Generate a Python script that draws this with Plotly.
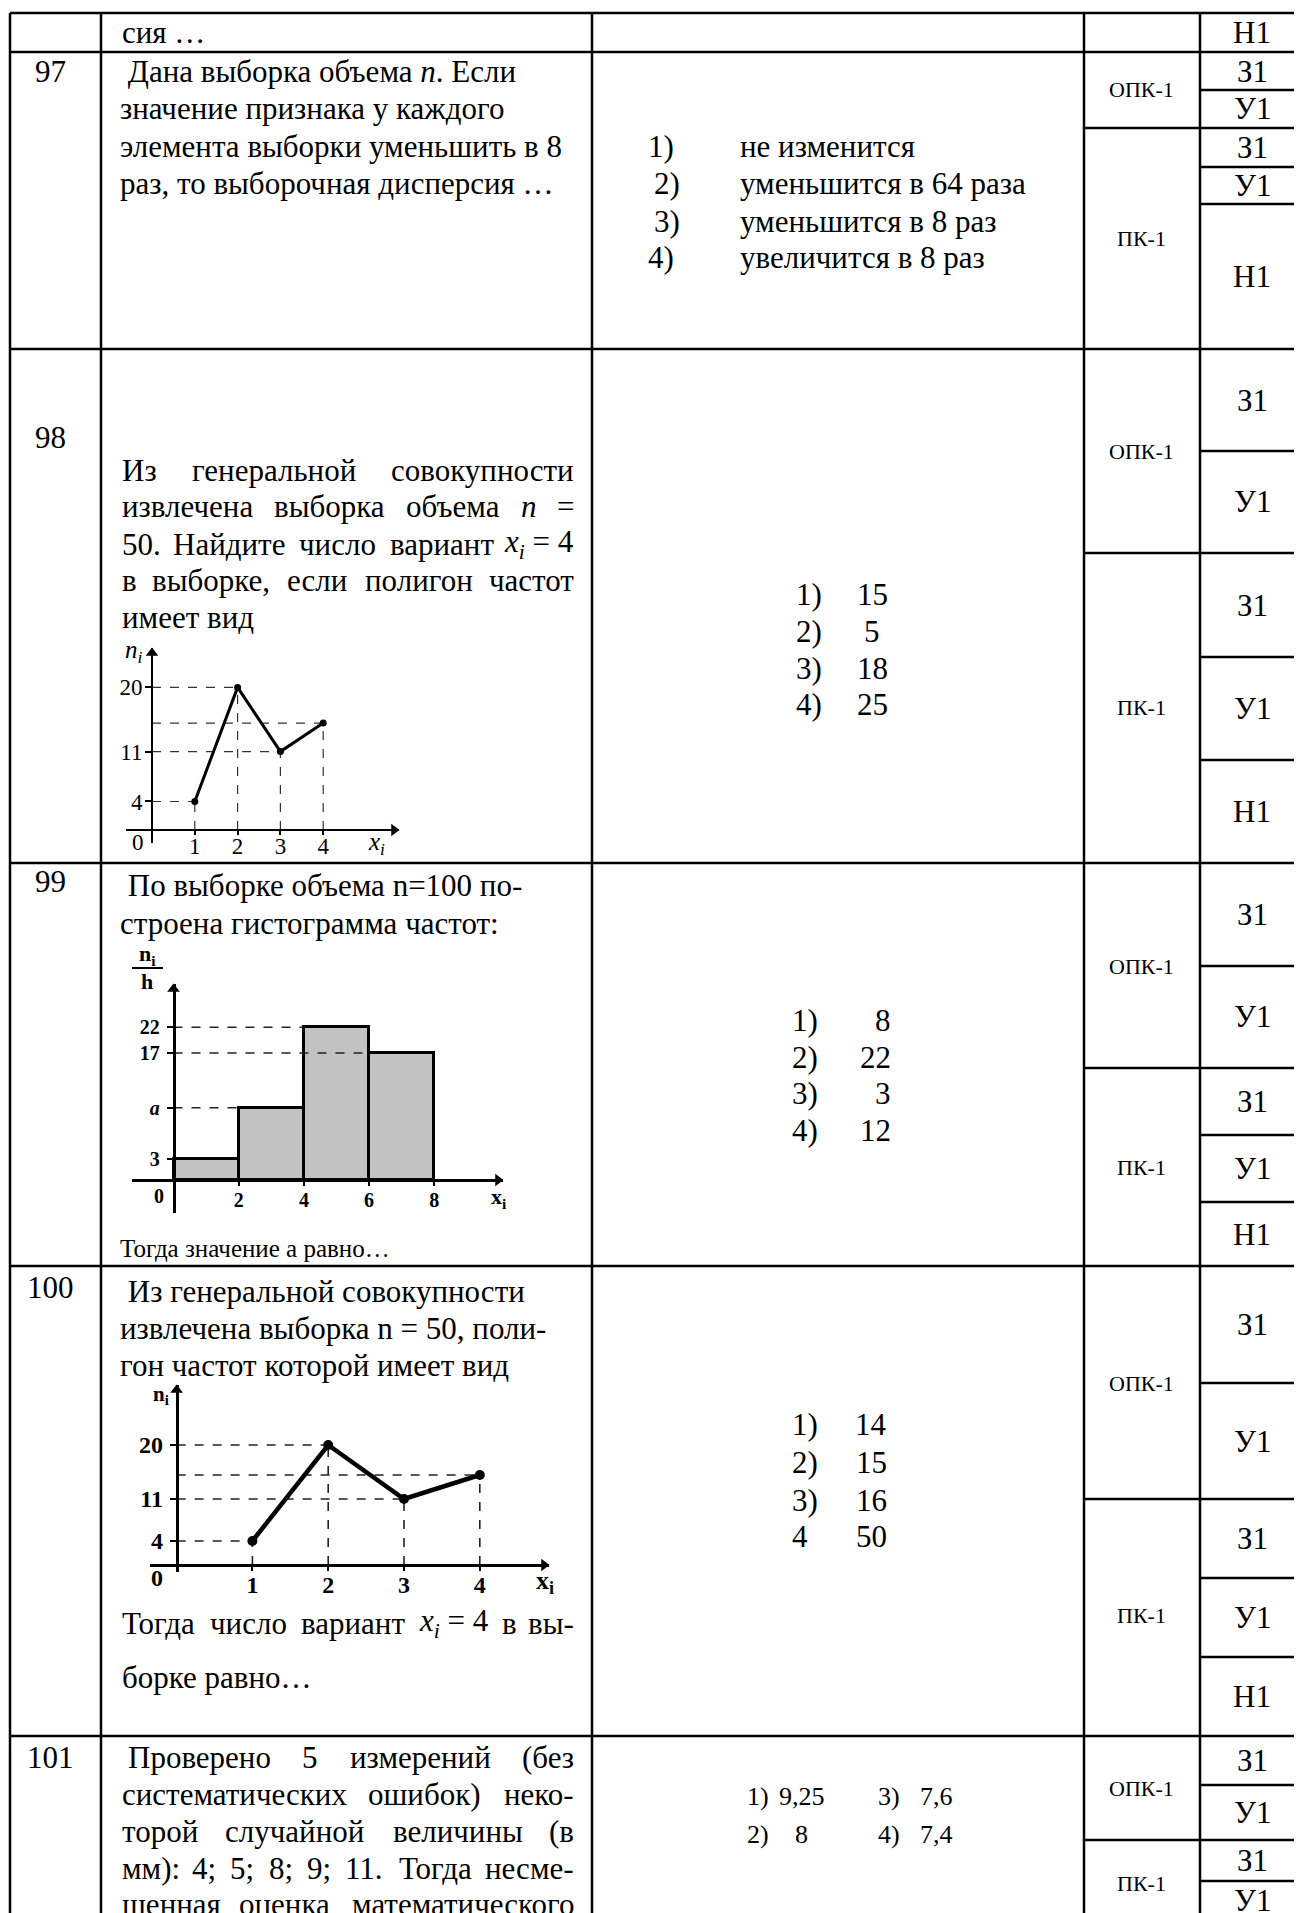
import re
import plotly.graph_objects as go

W, H = 1302, 1913
SERIF = "Liberation Serif"
FS = 31

# ---------------- data ----------------
row_numbers = ["97", "98", "99", "100", "101"]
q96_tail = "сия …"
q97_lines = [" Дана выборка объема <i>n</i>. Если", "значение признака у каждого",
             "элемента выборки уменьшить в 8", "раз, то выборочная дисперсия …"]
q98_words = [["Из", "генеральной", "совокупности"],
             ["извлечена", "выборка", "объема", "<i>n</i>", "="],
             ["50.", "Найдите", "число", "вариант", "<i>x<sub>i</sub></i> = 4"],
             ["в", "выборке,", "если", "полигон", "частот"]]
q98_last = "имеет вид"
q99_lines = [" По выборке объема n=100 по-", "строена гистограмма частот:"]
q99_after = "Тогда значение а равно…"
q100_lines = [" Из генеральной совокупности", "извлечена выборка n = 50, поли-",
              "гон частот которой имеет вид"]
q100_after_words = ["Тогда", "число", "вариант", "<i>x<sub>i</sub></i> = 4", "в", "вы-"]
q100_last = "борке равно…"
q101_words = [["Проверено", "5", "измерений", "(без"],
              ["систематических", "ошибок)", "неко-"],
              ["торой", "случайной", "величины", "(в"],
              ["мм):", "4;", "5;", "8;", "9;", "11.", "Тогда", "несме-"],
              ["щенная", "оценка", "математического"]]

answer_marks = ["1)", "2)", "3)", "4)"]
answers_97 = ["не изменится", "уменьшится в 64 раза", "уменьшится в 8 раз", "увеличится в 8 раз"]
answers_98 = ["15", "5", "18", "25"]
answers_99 = ["8", "22", "3", "12"]
answers_100_marks = ["1)", "2)", "3)", "4"]
answers_100 = ["14", "15", "16", "50"]
answers_101 = ["9,25", "8", "7,6", "7,4"]

comp_labels = ["ОПК-1", "ПК-1"]
level_labels_96 = ["Н1"]
level_labels_full = ["З1", "У1", "З1", "У1", "Н1"]
level_labels_101 = ["З1", "У1", "З1", "У1"]

# chart 1: polygon of frequencies (row 98)
poly1_x = [1, 2, 3, 4]
poly1_n = [4, 20, 11, 15]
poly1_yticks = [4, 11, 20]
# chart 2: histogram (row 99) - heights as drawn in the picture
hist_left = [0, 2, 4, 6]
hist_w = 2
hist_h = [3, 10.4, 22, 18.3]
hist_xticks = [2, 4, 6, 8]
hist_ytick_text = ["3", "a", "22", "17"]
# chart 3: polygon of frequencies (row 100)
poly2_x = [1, 2, 3, 4]
poly2_n = [4, 20, 11, 15]
poly2_yticks = [4, 11, 20]

# ---------------- helpers ----------------
OFF = 8  # page body margin
ann = []
shapes = []

# approximate Times/Liberation Serif advance widths (em)
TW = {}
for ch, w in zip("абвгдежзийклмнопрстуфхцчшщъыьэюя",
                 [.444, .509, .472, .410, .509, .444, .691, .395, .535, .535, .486, .499, .633,
                  .535, .500, .535, .500, .444, .437, .500, .648, .500, .535, .503, .770, .770,
                  .517, .672, .456, .429, .747, .484]):
    TW[ch] = w
TW.update({"И": .722, "Н": .722, "П": .722, "Т": .611, "Д": .683, "О": .722,
           " ": .25, ".": .25, ",": .25, ":": .278, ";": .278, "(": .333, ")": .333,
           "-": .333, "=": .564, "x": .444, "n": .5, "i": .2})
for d in "0123456789":
    TW[d] = .5


def text_width(s, fs):
    plain = re.sub(r"<[^>]+>", "", s)
    return sum(TW.get(ch, .5) for ch in plain) * fs


def PX(x):
    return (x - OFF) / W


def PY(y):
    return 1 - (y - OFF) / H


def txt(x, y, s, size=FS, anchor="left"):
    ann.append(dict(xref="paper", yref="paper", x=PX(x), y=PY(y), text=s, showarrow=False,
                    xanchor=anchor, yanchor="middle",
                    font=dict(family=SERIF, size=size, color="black")))


def justify(y, words, left=120, right=576, fs=FS):
    ws = [text_width(w, fs) for w in words]
    gap = (right - left - sum(ws)) / (len(words) - 1)
    x = left
    for i, (w, wd) in enumerate(zip(words, ws)):
        if i == 0:
            txt(left, y, w, fs, "left")
        elif i == len(words) - 1:
            txt(right, y, w, fs, "right")
        else:
            txt(x + wd / 2, y, w, fs, "center")
        x += wd + gap


def hline(y, x0, x1, w=2.5):
    shapes.append(dict(type="line", xref="paper", yref="paper", x0=PX(x0), x1=PX(x1),
                       y0=PY(y), y1=PY(y), line=dict(color="black", width=w)))


def vline(x, y0, y1, w=2.5):
    shapes.append(dict(type="line", xref="paper", yref="paper", x0=PX(x), x1=PX(x),
                       y0=PY(y0), y1=PY(y1), line=dict(color="black", width=w)))


# ---------------- table grid ----------------
VX = [10, 101, 592, 1084, 1200]
for x in VX:
    vline(x, 13, H + 20)
H_full = [13, 52, 349, 863, 1266, 1736]
H_c45 = [128, 553, 1068, 1499, 1840]
H_c5 = [90, 167, 204, 451, 657, 760, 966, 1135, 1202, 1383, 1578, 1657, 1785, 1881]
for y in H_full:
    hline(y, 10, W + 20)
for y in H_c45:
    hline(y, 1084, W + 20)
for y in H_c5:
    hline(y, 1200, W + 20)

# ---------------- column 1 : numbers ----------------
for s, y in zip(row_numbers, [71, 437, 881, 1287, 1757]):
    txt(50, y, s, anchor="center")

# ---------------- column 2 : questions ----------------
txt(120, 33, q96_tail)
for s, y in zip(q97_lines, [71, 109, 146, 184]):
    txt(118, y, s)
for words, y in zip(q98_words, [470, 506, 544, 581]):
    justify(y, words)
txt(120, 617, q98_last)
for s, y in zip(q99_lines, [886, 923]):
    txt(118, y, s)
txt(118, 1248, q99_after, size=25)
for s, y in zip(q100_lines, [1291, 1328, 1365]):
    txt(118, y, s)
justify(1623, q100_after_words)
txt(120, 1677, q100_last)
for k, (words, y) in enumerate(zip(q101_words, [1757, 1794, 1831, 1868, 1904])):
    justify(y, words, left=126 if k == 0 else 120)

# ---------------- column 3 : answers ----------------
for i, (m, s, y) in enumerate(zip(answer_marks, answers_97, [146, 184, 221, 257])):
    off = 6 if i in (1, 2) else 0
    txt(646 + off, y, m)
    txt(738, y, s)
for m, s, y in zip(answer_marks, answers_98, [594, 631, 668, 704]):
    txt(794, y, m)
    txt(872, y, s, anchor="center")
for m, s, y in zip(answer_marks, answers_99, [1020, 1057, 1093, 1130]):
    txt(790, y, m)
    txt(893, y, s, anchor="right")
for m, s, y in zip(answers_100_marks, answers_100, [1424, 1462, 1500, 1536]):
    txt(790, y, m)
    txt(871, y, s, anchor="center")
for k, y in enumerate([1796, 1834]):
    txt(745, y, answer_marks[k], size=26)
    txt(802, y, answers_101[k], size=26, anchor="center")
    txt(876, y, answer_marks[k + 2], size=26)
    txt(936, y, answers_101[k + 2], size=26, anchor="center")

# ---------------- column 4 : competences ----------------
comp_y = [90, 239, 451, 708, 966, 1167, 1383, 1615, 1788, 1883]
for i, y in enumerate(comp_y):
    txt(1141, y, comp_labels[i % 2], size=22, anchor="center")

# ---------------- column 5 : levels ----------------
bounds = sorted(set([13, 52, 90, 128, 167, 204, 349, 451, 553, 657, 760, 863, 966, 1068, 1135,
                     1202, 1266, 1383, 1499, 1578, 1657, 1736, 1785, 1840, 1881, 1920]))
levels = level_labels_96 + level_labels_full * 4 + level_labels_101
for i, s in enumerate(levels):
    y0, y1 = bounds[i], bounds[i + 1]
    txt(1252, (y0 + y1) / 2, s, anchor="center")

# ---------------- charts ----------------
fig = go.Figure()

charts = {
    "1": dict(ox=152, oy=830, ux=42.8, uy=7.13, xl=126, xr=399, yb=843, yt=648,
              tfs=23, bold=False, lw=1.8, stand=-9, ystand=-2, lab0=(138, 842), labx=(376, 843)),
    "2": dict(ox=173.5, oy=1180, ux=32.6, uy=6.94, xl=132, xr=503, yb=1213, yt=984,
              tfs=20, bold=True, lw=2.5, stand=-3, ystand=3, lab0=(159, 1196), labx=(499, 1198)),
    "3": dict(ox=176.6, oy=1565, ux=75.8, uy=6.0, xl=150, xr=549, yb=1572, yt=1385,
              tfs=24, bold=True, lw=2.5, stand=-7, ystand=2, lab0=(157, 1578), labx=(545, 1582)),
}
axis_layout = {}
rngs = {}
for key, c in charts.items():
    ox, oy, ux, uy = c["ox"], c["oy"], c["ux"], c["uy"]
    xrng = [(c["xl"] - ox) / ux, (c["xr"] - ox) / ux]
    yrng = [(oy - c["yb"]) / uy, (oy - c["yt"]) / uy]
    rngs[key] = (xrng, yrng)
    sfx = "" if key == "1" else key
    tfs = c["tfs"]
    common = dict(showgrid=False, zeroline=False, showline=True, linecolor="black",
                  linewidth=c["lw"], ticks="outside", tickcolor="black", tickwidth=1.5,
                  fixedrange=True, tickfont=dict(family=SERIF, size=tfs, color="black"))
    axis_layout["xaxis" + sfx] = dict(domain=[PX(c["xl"]), PX(c["xr"])], range=xrng, anchor="free",
                                      position=PY(oy), ticklen=4, ticklabelstandoff=c["stand"],
                                      **common)
    axis_layout["yaxis" + sfx] = dict(domain=[PY(c["yb"]), PY(c["yt"])], range=yrng, anchor="free",
                                      position=PX(ox), ticklen=6, ticklabelstandoff=c["ystand"],
                                      **common)
    # arrow heads at the axis ends
    fig.add_trace(go.Scatter(x=[xrng[1] - 5 / ux, 0], y=[0, yrng[1] - 5 / uy], mode="markers",
                             marker=dict(symbol=["triangle-right", "triangle-up"], size=11,
                                         color="black"),
                             cliponaxis=False, xaxis="x" + sfx, yaxis="y" + sfx,
                             hoverinfo="skip", showlegend=False))
    b0, b1 = ("<b>", "</b>") if c["bold"] else ("", "")
    ann.append(dict(x=0, y=0, xref="x" + sfx, yref="y" + sfx, text=b0 + "0" + b1, showarrow=False,
                    xanchor="center", yanchor="middle", xshift=c["lab0"][0] - ox,
                    yshift=oy - c["lab0"][1], font=dict(family=SERIF, size=tfs, color="black")))
    xi = "<b>x<sub>i</sub></b>" if c["bold"] else "<i>x<sub>i</sub></i>"
    ann.append(dict(x=0, y=0, xref="x" + sfx, yref="y" + sfx, text=xi, showarrow=False,
                    xanchor="center", yanchor="middle", xshift=c["labx"][0] - ox,
                    yshift=oy - c["labx"][1], font=dict(family=SERIF, size=tfs + 2, color="black")))

# chart 1 ticks
axis_layout["xaxis"].update(tickvals=poly1_x, ticktext=[str(v) for v in poly1_x])
axis_layout["yaxis"].update(tickvals=poly1_yticks, ticktext=[str(v) for v in poly1_yticks])
ann.append(dict(x=0, y=rngs["1"][1][1], xref="x", yref="y", text="<i>n<sub>i</sub></i>",
                showarrow=False, xanchor="right", yanchor="middle", xshift=-7, yshift=-3,
                font=dict(family=SERIF, size=25, color="black")))

# chart 2 ticks
axis_layout["xaxis2"].update(tickvals=hist_xticks, ticktext=["<b>%d</b>" % v for v in hist_xticks])
axis_layout["yaxis2"].update(
    tickvals=hist_h,
    ticktext=["<b><i>%s</i></b>" % t if t == "a" else "<b>%s</b>" % t for t in hist_ytick_text])
txt(147, 955, "<b>n<sub>i</sub></b>", size=22, anchor="center")
hline(968, 132, 163, w=2)
txt(147, 982, "<b>h</b>", size=22, anchor="center")

# chart 3 ticks
axis_layout["xaxis3"].update(tickvals=poly2_x, ticktext=["<b>%d</b>" % v for v in poly2_x])
axis_layout["yaxis3"].update(tickvals=poly2_yticks, ticktext=["<b>%d</b>" % v for v in poly2_yticks])
ann.append(dict(x=0, y=rngs["3"][1][1], xref="x3", yref="y3", text="<b>n<sub>i</sub></b>",
                showarrow=False, xanchor="right", yanchor="middle", xshift=-6, yshift=-10,
                font=dict(family=SERIF, size=21, color="black")))


def guide_lines(xs, ns):
    gx, gy = [], []
    for x, n in zip(xs, ns):
        gx += [0, x, None, x, x, None]
        gy += [n, n, None, 0, n, None]
    return gx, gy


# chart 1 traces
gx, gy = guide_lines(poly1_x, poly1_n)
fig.add_trace(go.Scatter(x=gx, y=gy, mode="lines", line=dict(color="#333", width=1.2, dash="dash"),
                         xaxis="x", yaxis="y", hoverinfo="skip", showlegend=False))
fig.add_trace(go.Scatter(x=poly1_x, y=poly1_n, mode="lines+markers",
                         line=dict(color="black", width=3), marker=dict(color="black", size=7),
                         xaxis="x", yaxis="y", showlegend=False))

# chart 2 traces
fig.add_trace(go.Bar(x=[l + hist_w / 2 for l in hist_left], y=hist_h, width=[hist_w] * len(hist_h),
                     marker=dict(color="#c2c2c2", line=dict(color="black", width=3)),
                     xaxis="x2", yaxis="y2", showlegend=False))
hx, hy = [], []
for l, h in zip(hist_left[1:], hist_h[1:]):
    hx += [0, l, None]
    hy += [h, h, None]
fig.add_trace(go.Scatter(x=hx, y=hy, mode="lines", line=dict(color="#222", width=1.6, dash="dash"),
                         xaxis="x2", yaxis="y2", hoverinfo="skip", showlegend=False))

# chart 3 traces
gx, gy = guide_lines(poly2_x, poly2_n)
fig.add_trace(go.Scatter(x=gx, y=gy, mode="lines", line=dict(color="#222", width=1.6, dash="dash"),
                         xaxis="x3", yaxis="y3", hoverinfo="skip", showlegend=False))
fig.add_trace(go.Scatter(x=poly2_x, y=poly2_n, mode="lines+markers",
                         line=dict(color="black", width=4.5), marker=dict(color="black", size=10),
                         xaxis="x3", yaxis="y3", showlegend=False))

fig.update_layout(
    width=W, height=H, margin=dict(l=0, r=0, t=0, b=0), template="none",
    paper_bgcolor="white", plot_bgcolor="rgba(0,0,0,0)", showlegend=False,
    annotations=ann, shapes=shapes, bargap=0, **axis_layout)

fig.write_html("out.html")
